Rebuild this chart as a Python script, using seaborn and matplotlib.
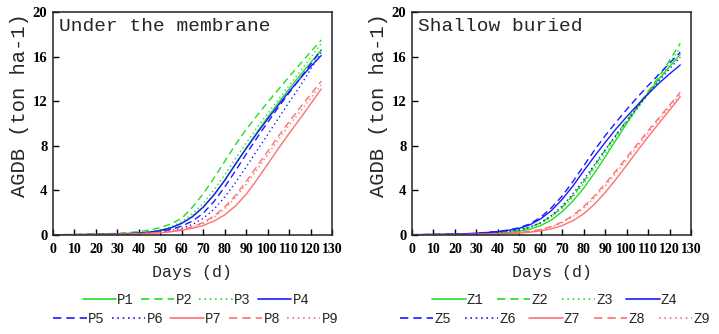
import numpy as np
import pandas as pd
import seaborn as sns
import matplotlib
matplotlib.use("Agg")
import matplotlib.pyplot as plt
from matplotlib.lines import Line2D

days = [0, 10, 20, 30, 40, 45, 50, 55, 60, 65, 70, 75, 80, 85, 90, 95, 100, 105, 110, 115, 120, 125]

# Under the membrane
P1 = [0.02, 0.03, 0.05, 0.08, 0.17, 0.26, 0.40, 0.65, 1.05, 1.65, 2.5, 3.6, 4.9, 6.35, 7.8, 9.2, 10.55, 11.85, 13.1, 14.3, 15.45, 16.6]
P2 = [0.03, 0.05, 0.08, 0.15, 0.30, 0.45, 0.66, 1.0, 1.5, 2.5, 3.7, 5.1, 6.6, 8.1, 9.45, 10.7, 11.9, 13.05, 14.2, 15.3, 16.4, 17.5]
P3 = [0.02, 0.04, 0.06, 0.10, 0.20, 0.30, 0.45, 0.72, 1.2, 1.9, 2.85, 4.05, 5.4, 6.85, 8.25, 9.6, 10.9, 12.15, 13.4, 14.65, 15.9, 17.2]
P4 = [0.02, 0.03, 0.05, 0.08, 0.17, 0.26, 0.40, 0.65, 1.05, 1.65, 2.5, 3.6, 4.9, 6.35, 7.75, 9.1, 10.4, 11.65, 12.85, 14.0, 15.1, 16.1]
P5 = [0.02, 0.03, 0.05, 0.08, 0.15, 0.22, 0.33, 0.5, 0.8, 1.25, 1.95, 3.0, 4.3, 5.75, 7.25, 8.7, 10.1, 11.45, 12.75, 14.0, 15.3, 16.6]
P6 = [0.02, 0.03, 0.04, 0.07, 0.12, 0.18, 0.27, 0.4, 0.6, 0.95, 1.5, 2.3, 3.4, 4.7, 6.1, 7.55, 9.0, 10.45, 11.9, 13.3, 14.85, 16.4]
P7 = [0.01, 0.02, 0.03, 0.05, 0.10, 0.14, 0.20, 0.29, 0.42, 0.6, 0.86, 1.25, 1.8, 2.6, 3.65, 4.95, 6.35, 7.75, 9.1, 10.4, 11.75, 13.1]
P8 = [0.02, 0.03, 0.04, 0.07, 0.12, 0.17, 0.25, 0.35, 0.5, 0.75, 1.12, 1.7, 2.5, 3.55, 4.8, 6.15, 7.5, 8.85, 10.15, 11.4, 12.6, 13.8]
P9 = [0.02, 0.03, 0.04, 0.06, 0.11, 0.16, 0.23, 0.33, 0.47, 0.7, 1.05, 1.6, 2.35, 3.35, 4.55, 5.85, 7.2, 8.55, 9.85, 11.05, 12.25, 13.45]

# Shallow buried
Z1 = [0.02, 0.03, 0.05, 0.08, 0.15, 0.22, 0.33, 0.52, 0.85, 1.35, 2.1, 3.05, 4.2, 5.55, 7.0, 8.5, 10.0, 11.45, 12.75, 13.95, 15.1, 16.2]
Z2 = [0.02, 0.04, 0.06, 0.10, 0.20, 0.30, 0.45, 0.7, 1.1, 1.7, 2.5, 3.55, 4.8, 6.2, 7.6, 8.95, 10.25, 11.55, 12.85, 14.2, 15.65, 17.2]
Z3 = [0.02, 0.04, 0.06, 0.10, 0.19, 0.29, 0.43, 0.67, 1.05, 1.62, 2.4, 3.4, 4.6, 5.95, 7.35, 8.7, 10.0, 11.3, 12.65, 14.0, 15.4, 16.8]
Z4 = [0.03, 0.05, 0.08, 0.15, 0.30, 0.42, 0.6, 0.92, 1.45, 2.2, 3.2, 4.4, 5.75, 7.05, 8.3, 9.5, 10.6, 11.65, 12.65, 13.6, 14.45, 15.25]
Z5 = [0.03, 0.05, 0.08, 0.15, 0.32, 0.45, 0.65, 1.0, 1.6, 2.45, 3.5, 4.8, 6.2, 7.6, 8.9, 10.1, 11.25, 12.35, 13.4, 14.4, 15.4, 16.4]
Z6 = [0.02, 0.04, 0.07, 0.12, 0.22, 0.32, 0.47, 0.72, 1.12, 1.75, 2.6, 3.7, 4.95, 6.3, 7.65, 8.95, 10.2, 11.45, 12.65, 13.8, 14.9, 15.95]
Z7 = [0.01, 0.02, 0.03, 0.05, 0.09, 0.12, 0.17, 0.25, 0.37, 0.56, 0.85, 1.28, 1.9, 2.75, 3.8, 5.0, 6.25, 7.55, 8.8, 10.0, 11.2, 12.4]
Z8 = [0.01, 0.02, 0.04, 0.06, 0.11, 0.15, 0.22, 0.33, 0.5, 0.77, 1.17, 1.75, 2.55, 3.5, 4.6, 5.75, 6.95, 8.15, 9.35, 10.5, 11.65, 12.8]
Z9 = [0.01, 0.02, 0.04, 0.06, 0.10, 0.14, 0.20, 0.3, 0.46, 0.72, 1.1, 1.65, 2.42, 3.35, 4.4, 5.55, 6.75, 7.95, 9.15, 10.3, 11.45, 12.6]

left_names = ["P1", "P2", "P3", "P4", "P5", "P6", "P7", "P8", "P9"]
right_names = ["Z1", "Z2", "Z3", "Z4", "Z5", "Z6", "Z7", "Z8", "Z9"]
left_values = [P1, P2, P3, P4, P5, P6, P7, P8, P9]
right_values = [Z1, Z2, Z3, Z4, Z5, Z6, Z7, Z8, Z9]
titles = ["Under the membrane", "Shallow buried"]
x_ticks = [0, 10, 20, 30, 40, 50, 60, 70, 80, 90, 100, 110, 120, 130]
y_ticks = [0, 4, 8, 12, 16, 20]

GREEN, BLUE, RED = "#22dd22", "#1a1aff", "#ff7070"
colors = [GREEN, GREEN, GREEN, BLUE, BLUE, BLUE, RED, RED, RED]
dash_list = ["", (5, 3), (1, 2.2), "", (5, 3), (1, 2.2), "", (5, 3), (1, 2.2)]
ls_list = ["-", (0, (5, 3)), (0, (1, 2.2)), "-", (0, (5, 3)), (0, (1, 2.2)), "-", (0, (5, 3)), (0, (1, 2.2))]

sns.set_style("ticks")
plt.rcParams["font.family"] = ["Liberation Mono", "DejaVu Sans"]

W, H = 719, 334
fig = plt.figure(figsize=(W / 100, H / 100), dpi=100)
ax_l = fig.add_axes([53 / W, 1 - 235 / H, 279 / W, 223 / H])
ax_r = fig.add_axes([412 / W, 1 - 235 / H, 279 / W, 223 / H])

mono = "Liberation Mono"
serif = "Liberation Serif"

for ax, names, vals, title, cx, colsp in [
    (ax_l, left_names, left_values, titles[0], 196, 0.5),
    (ax_r, right_names, right_values, titles[1], 555, 0.95),
]:
    df = pd.DataFrame({
        "Days": np.tile(days, len(names)),
        "AGDB": np.concatenate(vals),
        "Series": np.repeat(names, len(days)),
    })
    sns.lineplot(
        data=df, x="Days", y="AGDB", hue="Series", style="Series",
        hue_order=names, style_order=names,
        palette=dict(zip(names, colors)), dashes=dict(zip(names, dash_list)),
        linewidth=1.0, legend=False, ax=ax,
    )
    ax.set_xlim(0, 130)
    ax.set_ylim(0, 20)
    ax.set_xticks(x_ticks)
    ax.set_yticks(y_ticks)
    ax.set_xticklabels([str(t) for t in x_ticks], fontfamily=serif, fontweight="bold", fontsize=10)
    ax.set_yticklabels([str(t) for t in y_ticks], fontfamily=serif, fontweight="bold", fontsize=10.5)
    ax.tick_params(axis="x", direction="in", length=4, width=1, pad=6, colors="black")
    ax.tick_params(axis="y", direction="in", length=4, width=1, pad=4, colors="black")
    for sp in ax.spines.values():
        sp.set_visible(True)
        sp.set_linewidth(1.1)
        sp.set_color("#222222")
    ax.set_xlabel("Days (d)", fontfamily=mono, fontsize=12)
    ax.xaxis.set_label_coords(0.5, -(272 - 235) / 223, transform=ax.transAxes)
    ax.set_ylabel("AGDB (ton ha-1)", fontfamily=mono, fontsize=14.8)
    ax.yaxis.set_label_coords(-33 / 279, (235 - 105) / 223, transform=ax.transAxes)
    ax.yaxis.label.set_va("center")
    ax.xaxis.label.set_va("center")
    ax.text(0.02, 0.975, title, transform=ax.transAxes, ha="left", va="top",
            fontfamily=mono, fontsize=14)

    handles = [Line2D([0], [0], color=c, ls=ls, lw=1.2) for c, ls in zip(colors, ls_list)]
    kw = dict(frameon=False, handlelength=2.4, handletextpad=0.1, columnspacing=colsp,
              prop={"family": mono, "size": 10}, borderaxespad=0, borderpad=0)
    fig.legend(handles[:4], names[:4], ncol=4, loc="center",
               bbox_to_anchor=(cx / W, 1 - 300 / H), **kw)
    fig.legend(handles[4:], names[4:], ncol=5, loc="center",
               bbox_to_anchor=(cx / W, 1 - 319 / H), **kw)

fig.savefig("out.png", dpi=100)
